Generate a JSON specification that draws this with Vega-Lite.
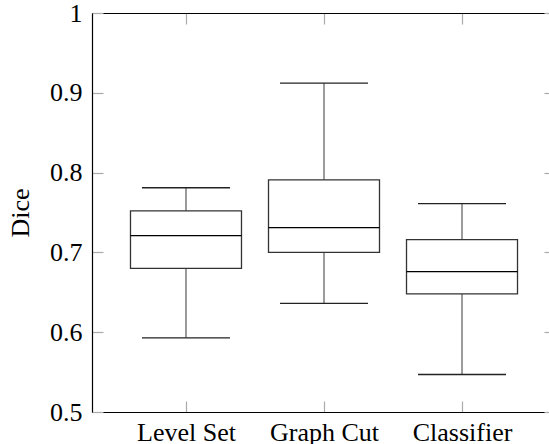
{
  "$schema": "https://vega.github.io/schema/vega-lite/v6.json",
  "autosize": {"type": "none"},
  "padding": {"left": 92, "top": 13, "right": 0, "bottom": 32},
  "width": 457,
  "height": 399,
  "background": "white",
  "config": {
    "view": {"stroke": null},
    "font": "Liberation Serif",
    "axis": {
      "labelFont": "Liberation Serif",
      "titleFont": "Liberation Serif",
      "labelFontSize": 26,
      "titleFontSize": 26,
      "labelColor": "black",
      "titleColor": "black",
      "titleFontWeight": "normal",
      "grid": false,
      "domainColor": "black",
      "domainWidth": 1.2,
      "tickColor": "#aaaaaa",
      "tickWidth": 1.2
    }
  },
  "data": {
    "values": [
      {"method": "Level Set", "lower": 0.593, "q1": 0.680, "median": 0.721, "q3": 0.752, "upper": 0.781},
      {"method": "Graph Cut", "lower": 0.636, "q1": 0.700, "median": 0.731, "q3": 0.791, "upper": 0.912},
      {"method": "Classifier", "lower": 0.547, "q1": 0.648, "median": 0.676, "q3": 0.716, "upper": 0.761}
    ]
  },
  "resolve": {"axis": {"x": "independent", "y": "independent"}},
  "layer": [
    {
      "mark": {"type": "rule", "color": "#666666", "strokeWidth": 1.3},
      "encoding": {
        "x": {
          "field": "method", "type": "nominal", "sort": null,
          "scale": {"type": "point", "range": [0, 464], "padding": 0.681},
          "axis": {
            "orient": "bottom", "title": null, "labelAngle": 0,
            "labelFont": "Liberation Serif", "labelFontSize": 26,
            "tickSize": -11, "labelBaseline": "alphabetic", "labelPadding": 39
          }
        },
        "y": {
          "field": "lower", "type": "quantitative",
          "scale": {"domain": [0.5, 1], "nice": false, "zero": false},
          "axis": {
            "orient": "left", "title": "Dice", "values": [0.5, 0.6, 0.7, 0.8, 0.9, 1],
            "labelFont": "Liberation Serif", "labelFontSize": 26,
            "titleFont": "Liberation Serif",
            "format": ".1~f", "tickSize": -11, "labelPadding": 21, "titlePadding": 16,
            "labelBaseline": "middle"
          }
        },
        "y2": {"field": "upper"}
      }
    },
    {
      "mark": {"type": "bar", "size": 111, "fill": "white", "stroke": "#333333", "strokeWidth": 1.3},
      "encoding": {
        "x": {"field": "method", "type": "nominal", "sort": null, "axis": null},
        "y": {"field": "q1", "type": "quantitative", "axis": null},
        "y2": {"field": "q3"}
      }
    },
    {
      "mark": {"type": "tick", "size": 111, "thickness": 1.3, "color": "black", "opacity": 1},
      "encoding": {
        "x": {"field": "method", "type": "nominal", "sort": null, "axis": null},
        "y": {"field": "median", "type": "quantitative", "axis": null}
      }
    },
    {
      "mark": {"type": "tick", "size": 88, "thickness": 1.3, "color": "#222222", "opacity": 1},
      "encoding": {
        "x": {"field": "method", "type": "nominal", "sort": null, "axis": null},
        "y": {"field": "lower", "type": "quantitative", "axis": null}
      }
    },
    {
      "mark": {"type": "tick", "size": 88, "thickness": 1.3, "color": "#222222", "opacity": 1},
      "encoding": {
        "x": {
          "field": "method", "type": "nominal", "sort": null,
          "axis": {"orient": "top", "title": null, "labels": false, "tickSize": -11}
        },
        "y": {
          "field": "upper", "type": "quantitative",
          "axis": {"orient": "right", "title": null, "labels": false, "domain": false,
                   "tickSize": -5, "values": [0.5, 0.6, 0.7, 0.8, 0.9, 1]}
        }
      }
    }
  ]
}
